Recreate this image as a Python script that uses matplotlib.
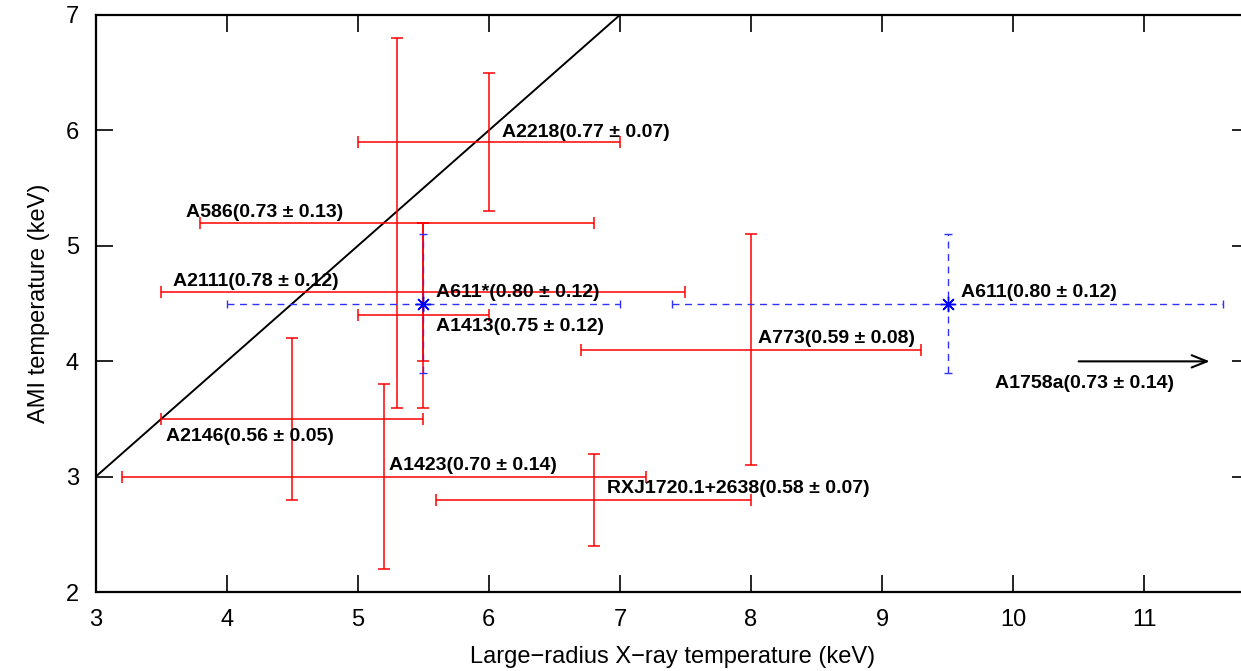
import matplotlib
matplotlib.use('Agg')
import matplotlib.pyplot as plt

plt.rcParams['font.family'] = ['Liberation Sans', 'DejaVu Sans']

# 红色: 各星系团 (X射线温度, AMI温度, 误差)
red_names = ['A2218', 'A586', 'A2111', 'A1413', 'A2146', 'A1423',
             'RXJ1720.1+2638', 'A773']
red_x = [6.0, 5.3, 5.5, 5.5, 4.5, 5.2, 6.8, 8.0]
red_y = [5.9, 5.2, 4.6, 4.4, 3.5, 3.0, 2.8, 4.1]
red_xerr = [1.0, 1.5, 2.0, 0.5, 1.0, 2.0, 1.2, 1.3]
red_yerr = [0.6, 1.6, 0.6, 0.8, 0.7, 0.8, 0.4, 1.0]
red_ratio = ['0.77 ± 0.07', '0.73 ± 0.13', '0.78 ± 0.12', '0.75 ± 0.12',
             '0.56 ± 0.05', '0.70 ± 0.14', '0.58 ± 0.07', '0.59 ± 0.08']
red_lab_x = [6.10, 3.69, 3.59, 5.60, 3.54, 5.24, 6.90, 8.05]
red_lab_y = [5.98, 5.29, 4.69, 4.30, 3.35, 3.10, 2.90, 4.20]

# 蓝色: A611
blue_names = ['A611*', 'A611']
blue_x = [5.5, 9.5]
blue_y = [4.5, 4.5]
blue_xerr = [1.5, 2.1]
blue_yerr = [0.6, 0.6]
blue_ratio = ['0.80 ± 0.12', '0.80 ± 0.12']
blue_lab_x = [5.60, 9.60]
blue_lab_y = [4.60, 4.60]

# A1758a: 只有下限 (箭头)
arrow_x = [10.5, 11.5]
arrow_y = 4.0
arrow_label = 'A1758a(0.73 ± 0.14)'
arrow_lab_x, arrow_lab_y = 9.86, 3.81

# y = x
line_x = [3, 7]
line_y = [3, 7]

fig = plt.figure(figsize=(12.41, 6.71), dpi=100)
ax = fig.add_axes([0.0770, 0.1173, 0.9295, 0.8604])

ax.plot(line_x, line_y, color='black', lw=1.4)

ax.errorbar(red_x, red_y, xerr=red_xerr, yerr=red_yerr, fmt='none',
            ecolor='red', elinewidth=1.1, capsize=4, capthick=1.1)

eb = ax.errorbar(blue_x, blue_y, xerr=blue_xerr, yerr=blue_yerr, fmt='none',
                 ecolor='#3030ff', elinewidth=1.0, capsize=3, capthick=1.0)
for lc in eb[2]:
    lc.set_linestyle((0, (5, 4)))
ax.plot(blue_x, blue_y, linestyle='none', marker=(8, 2, 0), markersize=11,
        markeredgecolor='blue', markeredgewidth=1.0)

ax.annotate('', xy=(arrow_x[1], arrow_y), xytext=(arrow_x[0], arrow_y),
            arrowprops=dict(arrowstyle='->,head_length=0.55,head_width=0.22',
                            color='black', lw=1.5, mutation_scale=20,
                            shrinkA=0, shrinkB=0))

for n, r, lx, ly in zip(red_names, red_ratio, red_lab_x, red_lab_y):
    ax.text(lx, ly, f'{n}({r})', fontsize=14, fontweight='bold',
            ha='left', va='center')
for n, r, lx, ly in zip(blue_names, blue_ratio, blue_lab_x, blue_lab_y):
    ax.text(lx, ly, f'{n}({r})', fontsize=14, fontweight='bold',
            ha='left', va='center')
ax.text(arrow_lab_x, arrow_lab_y, arrow_label, fontsize=14, fontweight='bold',
        ha='left', va='center')

ax.set_xlim(3, 11.8)
ax.set_ylim(2, 7)
ax.set_xticks(range(3, 12))
ax.set_yticks(range(2, 8))
ax.tick_params(direction='in', length=12, width=1.2, top=True, right=True,
               labelsize=17, pad=12)
for s in ax.spines.values():
    s.set_linewidth(1.6)

ax.set_xlabel('Large\u2212radius X\u2212ray temperature (keV)', fontsize=17,
              labelpad=11)
ax.set_ylabel('AMI temperature (keV)', fontsize=17, labelpad=11)

fig.savefig('out.png', dpi=100)
